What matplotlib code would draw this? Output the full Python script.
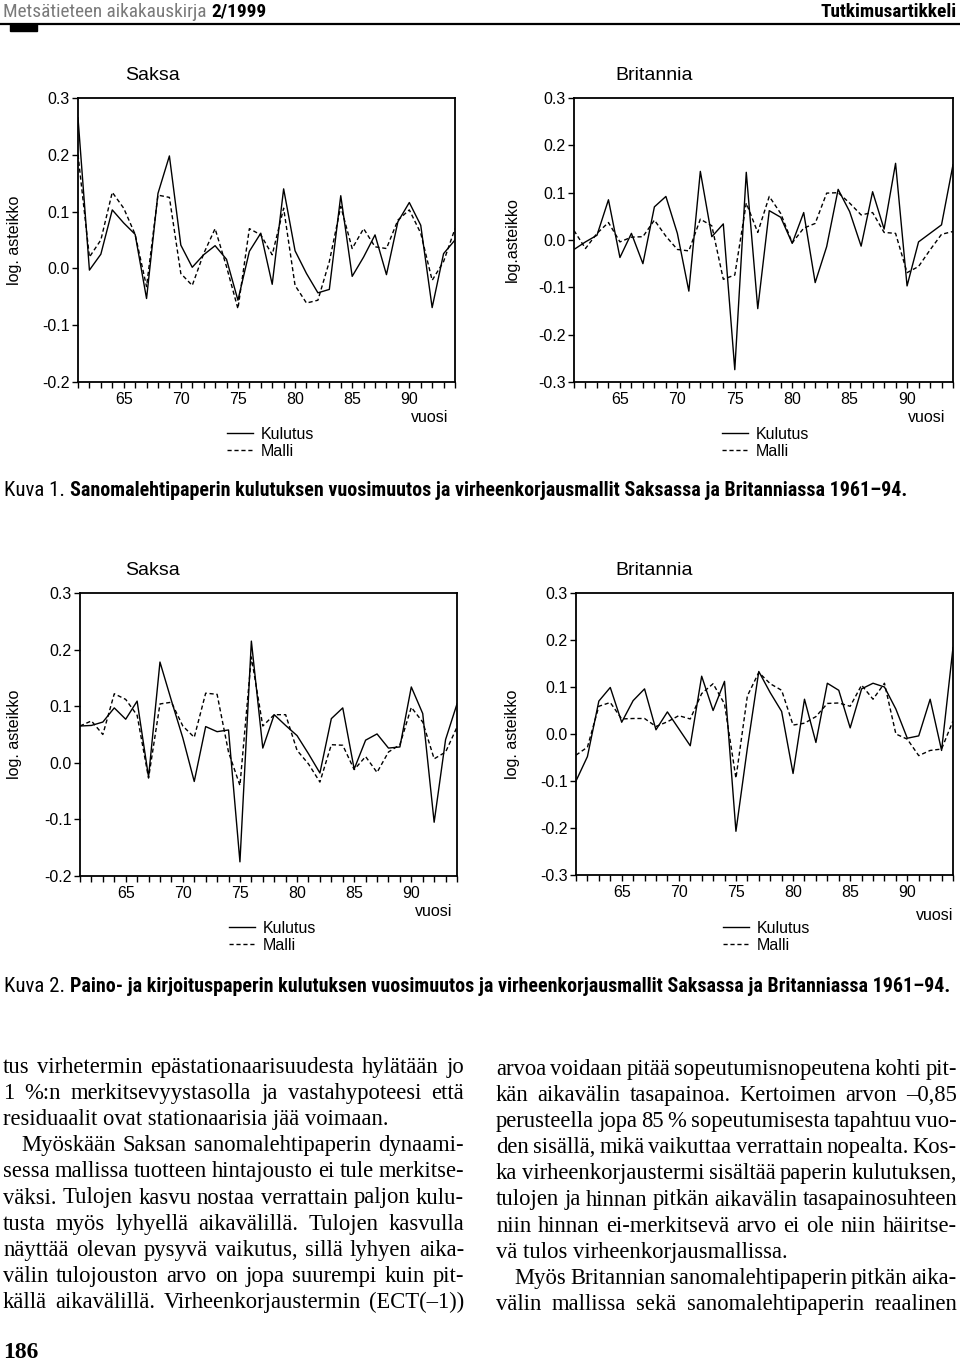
import matplotlib
matplotlib.use('Agg')
import matplotlib.pyplot as plt
from matplotlib import font_manager as fm
from matplotlib.ticker import FormatStrFormatter

W, H = 960, 1365

years = list(range(61, 95))

# Kuva 1: sanomalehtipaperi
k1_de_kulutus = [0.265, -0.003, 0.025, 0.103, 0.080, 0.060, -0.053, 0.132, 0.198, 0.041,
                 0.002, 0.024, 0.040, 0.016, -0.056, 0.030, 0.062, -0.028, 0.140, 0.031,
                 -0.009, -0.043, -0.037, 0.128, -0.014, 0.020, 0.059, -0.011, 0.082, 0.116,
                 0.076, -0.069, 0.026, 0.050]
k1_de_malli = [0.200, 0.020, 0.050, 0.134, 0.106, 0.060, -0.032, 0.129, 0.125, -0.009,
               -0.030, 0.026, 0.070, 0.003, -0.071, 0.070, 0.059, 0.024, 0.106, -0.030,
               -0.061, -0.056, 0.012, 0.109, 0.035, 0.070, 0.038, 0.035, 0.085, 0.103,
               0.062, -0.021, 0.012, 0.070]
k1_uk_kulutus = [-0.020, -0.004, 0.010, 0.085, -0.037, 0.014, -0.050, 0.070, 0.092, 0.014,
                 -0.108, 0.145, 0.007, 0.034, -0.274, 0.143, -0.145, 0.062, 0.048, -0.007,
                 0.058, -0.090, -0.014, 0.107, 0.060, -0.013, 0.102, 0.023, 0.162, -0.097,
                 -0.004, 0.014, 0.032, 0.159]
k1_uk_malli = [0.020, -0.018, 0.014, 0.037, -0.004, 0.006, 0.007, 0.042, 0.008, -0.020,
               -0.023, 0.044, 0.030, -0.083, -0.074, 0.078, 0.016, 0.092, 0.056, -0.006,
               0.025, 0.035, 0.099, 0.100, 0.078, 0.053, 0.058, 0.016, 0.014, -0.069,
               -0.056, -0.021, 0.012, 0.018]

# Kuva 2: paino- ja kirjoituspaperi
k2_de_kulutus = [0.065, 0.066, 0.072, 0.097, 0.077, 0.109, -0.025, 0.178, 0.110, 0.044,
                 -0.033, 0.064, 0.055, 0.058, -0.175, 0.215, 0.026, 0.085, 0.066, 0.048,
                 0.016, -0.018, 0.078, 0.097, -0.011, 0.040, 0.051, 0.026, 0.028, 0.134,
                 0.087, -0.105, 0.041, 0.104]
k2_de_malli = [0.065, 0.074, 0.050, 0.122, 0.112, 0.084, -0.027, 0.104, 0.107, 0.065,
               0.045, 0.123, 0.121, 0.019, -0.040, 0.187, 0.065, 0.085, 0.085, 0.022,
               -0.002, -0.034, 0.032, 0.031, -0.012, 0.011, -0.017, 0.019, 0.032, 0.098,
               0.072, 0.007, 0.019, 0.063]
k2_uk_kulutus = [-0.100, -0.048, 0.070, 0.099, 0.025, 0.071, 0.096, 0.009, 0.047, 0.011,
                 -0.025, 0.123, 0.050, 0.112, -0.207, -0.030, 0.133, 0.088, 0.048, -0.084,
                 0.074, -0.018, 0.108, 0.093, 0.013, 0.096, 0.108, 0.100, 0.053, -0.009,
                 -0.004, 0.074, -0.035, 0.184]
k2_uk_malli = [-0.045, -0.028, 0.059, 0.067, 0.032, 0.033, 0.033, 0.016, 0.026, 0.039,
               0.032, 0.086, 0.107, 0.064, -0.094, 0.081, 0.131, 0.107, 0.093, 0.019,
               0.023, 0.037, 0.065, 0.066, 0.059, 0.104, 0.074, 0.108, 0.000, -0.011,
               -0.046, -0.035, -0.032, 0.028]

ticks_de = [-0.2, -0.1, 0.0, 0.1, 0.2, 0.3]
ticks_uk = [-0.3, -0.2, -0.1, 0.0, 0.1, 0.2, 0.3]

header_left = 'Metsätieteen aikakauskirja '
header_issue = '2/1999'
header_right = 'Tutkimusartikkeli'
caption1 = 'Sanomalehtipaperin kulutuksen vuosimuutos ja virheenkorjausmallit Saksassa ja Britanniassa 1961–94.'
caption2 = 'Paino- ja kirjoituspaperin kulutuksen vuosimuutos ja virheenkorjausmallit Saksassa ja Britanniassa 1961–94.'

left_col = [
    ('tus virhetermin epästationaarisuudesta hylätään jo', 'j'),
    ('1 %:n merkitsevyystasolla ja vastahypoteesi että', 'j'),
    ('residuaalit ovat stationaarisia jää voimaan.', 'l'),
    ('Myöskään Saksan sanomalehtipaperin dynaami-', 'ji'),
    ('sessa mallissa tuotteen hintajousto ei tule merkitse-', 'j'),
    ('väksi. Tulojen kasvu nostaa verrattain paljon kulu-', 'j'),
    ('tusta myös lyhyellä aikavälillä. Tulojen kasvulla', 'j'),
    ('näyttää olevan pysyvä vaikutus, sillä lyhyen aika-', 'j'),
    ('välin tulojouston arvo on jopa suurempi kuin pit-', 'j'),
    ('källä aikavälillä. Virheenkorjaustermin (ECT(–1))', 'j'),
]
right_col = [
    ('arvoa voidaan pitää sopeutumisnopeutena kohti pit-', 'j'),
    ('kän aikavälin tasapainoa. Kertoimen arvon –0,85', 'j'),
    ('perusteella jopa 85 % sopeutumisesta tapahtuu vuo-', 'j'),
    ('den sisällä, mikä vaikuttaa verrattain nopealta. Kos-', 'j'),
    ('ka virheenkorjaustermi sisältää paperin kulutuksen,', 'j'),
    ('tulojen ja hinnan pitkän aikavälin tasapainosuhteen', 'j'),
    ('niin hinnan ei-merkitsevä arvo ei ole niin häiritse-', 'j'),
    ('vä tulos virheenkorjausmallissa.', 'l'),
    ('Myös Britannian sanomalehtipaperin pitkän aika-', 'ji'),
    ('välin mallissa sekä sanomalehtipaperin reaalinen', 'j'),
]


def find_narrow():
    # look for a condensed sans face, else plain Liberation Sans
    for fam in ['Liberation Sans Narrow', 'Roboto Condensed', 'DejaVu Sans Condensed',
                'Open Sans Condensed', 'Noto Sans Condensed']:
        try:
            fm.findfont(fm.FontProperties(family=fam), fallback_to_default=False)
            return {'family': fam}
        except ValueError:
            pass
    for fam in ['DejaVu Sans', 'Noto Sans', 'Open Sans', 'Roboto']:
        f = fm.findfont(fm.FontProperties(family=fam, stretch='condensed'))
        if 'ondensed' in f or 'arrow' in f:
            return {'family': fam, 'stretch': 'condensed'}
    return {'family': 'Liberation Sans'}


SANS = 'Liberation Sans'
NARROW = find_narrow()
SERIF = 'Liberation Serif'

plt.rcParams['font.family'] = SANS
plt.rcParams['axes.unicode_minus'] = False

fig = plt.figure(figsize=(W / 100, H / 100), dpi=100)
renderer = fig.canvas.get_renderer()


def fx(px):
    return px / W


def fy(py):
    return 1 - py / H


def txt(x, y, s, **kw):
    return fig.text(fx(x), fy(y), s, **kw)


def width_of(t):
    return t.get_window_extent(renderer).width


def make_chart(box, kul, mal, yt, title, title_x, ylab, ylab_x, vuosi_xy, leg_xy):
    x0, y0, x1, y1 = box
    ax = fig.add_axes([fx(x0), fy(y1), (x1 - x0) / W, (y1 - y0) / H])
    l1, = ax.plot(years, kul, color='black', lw=1.0, label='Kulutus')
    l2, = ax.plot(years, mal, color='black', lw=1.0, ls=(0, (3, 2)), label='Malli')
    ax.set_xlim(61, 94)
    ax.set_ylim(yt[0], yt[-1])
    ax.set_yticks(yt)
    ax.yaxis.set_major_formatter(FormatStrFormatter('%.1f'))
    ax.set_xticks(years)
    ax.set_xticklabels([str(v) if v % 5 == 0 else '' for v in years])
    ax.tick_params(axis='both', direction='out', width=1.0, labelsize=11.5, colors='black')
    ax.tick_params(axis='y', length=4, pad=2)
    ax.tick_params(axis='x', length=4, pad=3)
    for sp in ax.spines.values():
        sp.set_linewidth(1.3)
    txt(title_x, y0 - 23, title, fontsize=14, ha='center', va='center')
    txt(ylab_x, (y0 + y1) / 2, ylab, fontsize=11.5, rotation=90, ha='center', va='center')
    txt(vuosi_xy[0], vuosi_xy[1], 'vuosi', fontsize=11.5, ha='right', va='center')
    ax.legend(handles=[l1, l2], loc='upper left', frameon=False, fontsize=11.5,
              bbox_to_anchor=(fx(leg_xy[0]), fy(leg_xy[1])), bbox_transform=fig.transFigure,
              borderpad=0, borderaxespad=0, handlelength=1.65, handletextpad=0.45,
              labelspacing=0.1)
    return ax


make_chart((78, 98, 455, 382), k1_de_kulutus, k1_de_malli, ticks_de, 'Saksa', 153,
           'log. asteikko', 15, (448, 418), (227, 427))
make_chart((574, 98, 953, 382), k1_uk_kulutus, k1_uk_malli, ticks_uk, 'Britannia', 654,
           'log.asteikko', 512, (945, 418), (722, 427))
make_chart((80, 593, 457, 876), k2_de_kulutus, k2_de_malli, ticks_de, 'Saksa', 153,
           'log. asteikko', 15, (452, 912), (229, 921))
make_chart((576, 593, 953, 875), k2_uk_kulutus, k2_uk_malli, ticks_uk, 'Britannia', 654,
           'log. asteikko', 513, (953, 915), (723, 921))

# page header
h1 = txt(3, 12, header_left + header_issue, fontsize=14, va='center', **NARROW)
hs = 14 * 265 / width_of(h1)
h1.set_fontsize(hs)
h1.set_text(header_left)
h1.set_color('#7a7a7a')
txt(3 + width_of(h1), 12, header_issue, fontsize=hs, weight='bold', va='center', **NARROW)
txt(957, 12, header_right, fontsize=hs, weight='bold', ha='right', va='center', **NARROW)
fig.add_artist(plt.Line2D([0, 1], [fy(24), fy(24)], color='black', lw=1.6))
fig.add_artist(plt.Rectangle((fx(10), fy(31)), fx(27), 7 / H, color='black'))

# captions: same size for both, fitted so that caption 2 ends near the right edge
k2 = txt(4, 986, 'Kuva 2.', fontsize=15, va='center', **NARROW)
kx = 4 + width_of(k2) + 5
c2 = txt(kx, 986, caption2, fontsize=13, weight='bold', va='center', **NARROW)
cap_size = 13 * (948 - kx) / width_of(c2)
c2.set_fontsize(cap_size)
txt(4, 490, 'Kuva 1.', fontsize=15, va='center', **NARROW)
txt(kx, 490, caption1, fontsize=cap_size, weight='bold', va='center', **NARROW)

# body text, justified
BODY = 16.3


def body_line(s, mode, x0, x1, yb):
    if 'i' in mode:
        x0 += 18
    if mode == 'l':
        txt(x0, yb, s, fontsize=BODY, family=SERIF, va='baseline')
        return
    words = s.split(' ')
    objs = [txt(0, yb, w, fontsize=BODY, family=SERIF, va='baseline') for w in words]
    widths = [width_of(o) for o in objs]
    size = BODY
    min_gap = 3.5
    need = sum(widths) + min_gap * (len(words) - 1)
    if need > x1 - x0:
        # squeeze the line a little when the words do not fit
        size = BODY * (x1 - x0 - min_gap * (len(words) - 1)) / sum(widths)
        for o in objs:
            o.set_fontsize(size)
        widths = [width_of(o) for o in objs]
    gap = (x1 - x0 - sum(widths)) / (len(words) - 1)
    x = x0
    for o, w in zip(objs, widths):
        o.set_x(fx(x))
        x += w + gap


for i, (s, mode) in enumerate(left_col):
    body_line(s, mode, 3, 464, 1073 + 26.1 * i)
for i, (s, mode) in enumerate(right_col):
    body_line(s, mode, 496, 957, 1075 + 26.1 * i)

txt(3, 1353, '186', fontsize=17, family=SERIF, weight='bold', va='center')

fig.savefig('out.png', dpi=100)
